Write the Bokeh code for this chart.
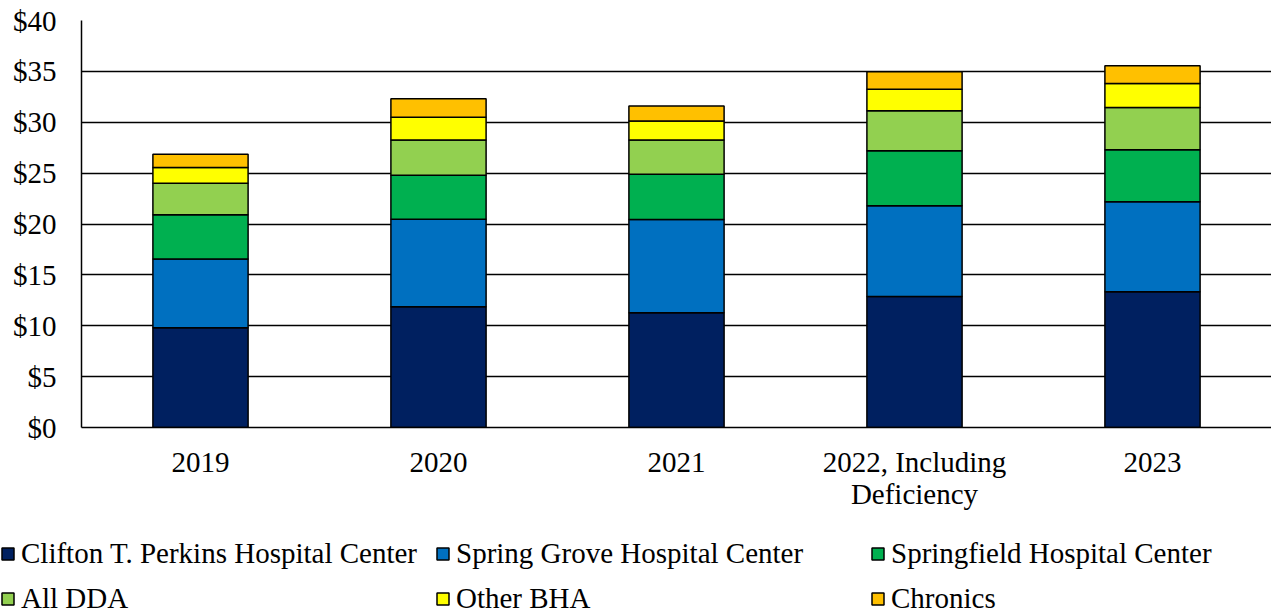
from bokeh.plotting import figure
from bokeh.models import (ColumnDataSource, FactorRange, Range1d, FixedTicker,
                          NumeralTickFormatter, Legend, LegendItem)
from bokeh.layouts import column
from bokeh.embed import file_html
from bokeh.resources import INLINE

# ---- data (in $ millions) ----
years = ["2019", "2020", "2021", "2022, Including\nDeficiency", "2023"]
series_names = ["Clifton T. Perkins Hospital Center", "Spring Grove Hospital Center",
                "Springfield Hospital Center", "All DDA", "Other BHA", "Chronics"]
perkins = [9.8, 11.86, 11.27, 12.88, 13.33]
spring_grove = [6.75, 8.6, 9.18, 8.91, 8.85]
springfield = [4.35, 4.33, 4.43, 5.41, 5.12]
all_dda = [3.1, 3.47, 3.37, 3.93, 4.16]
other_bha = [1.55, 2.23, 1.87, 2.11, 2.36]
chronics = [1.3, 1.82, 1.48, 1.73, 1.74]
y_ticks = [0, 5, 10, 15, 20, 25, 30, 35, 40]

colors = ["#002060", "#0070C0", "#00B050", "#92D050", "#FFFF00", "#FFC000"]
keys = ["perkins", "spring_grove", "springfield", "all_dda", "other_bha", "chronics"]
FONT = "Liberation Serif"
FS = "29px"

src = ColumnDataSource(dict(year=years, perkins=perkins, spring_grove=spring_grove,
                            springfield=springfield, all_dda=all_dda,
                            other_bha=other_bha, chronics=chronics))
xr = FactorRange(*years, range_padding=0)

p = figure(x_range=xr, y_range=Range1d(0, 40),
           width=1271, height=537, toolbar_location=None, output_backend="svg",
           min_border_left=81, min_border_right=0, min_border_top=20,
           min_border_bottom=110)
p.frame_align = False
p.vbar_stack(keys, x="year", width=0.4, source=src, fill_color=colors,
             line_color="black", line_width=1.5)

p.outline_line_color = None
p.xgrid.grid_line_color = None
p.ygrid.grid_line_color = "black"
p.ygrid.grid_line_width = 1.5
p.ygrid.ticker = FixedTicker(ticks=y_ticks)

p.yaxis.ticker = FixedTicker(ticks=y_ticks)
p.yaxis.formatter = NumeralTickFormatter(format="$0")
for ax in (p.xaxis[0], p.yaxis[0]):
    ax.axis_line_color = "black"
    ax.axis_line_width = 1.5
    ax.major_tick_line_color = None
    ax.minor_tick_line_color = None
    ax.major_tick_out = 0
    ax.major_tick_in = 0
    ax.major_label_text_font = FONT
    ax.major_label_text_font_size = FS
    ax.major_label_text_color = "black"
p.yaxis.major_label_standoff = 25
p.xaxis.major_label_standoff = 18
p.xaxis.major_label_text_line_height = 1.0

# ---- legend panel (hidden proxy renderers of the same series) ----
pl = figure(x_range=xr, y_range=Range1d(0, 40), width=1271, height=77,
            toolbar_location=None, output_backend="svg", min_border=0,
            x_axis_location=None, y_axis_location=None)
pl.frame_align = False
pl.grid.visible = False
pl.outline_line_color = None
proxies = pl.vbar_stack(keys, x="year", width=0.4, source=src, fill_color=colors,
                        line_color="black", line_width=1.5)
for r in proxies:
    r.visible = False
order = [0, 3, 1, 4, 2, 5]  # column-major list -> row-major appearance
items = [LegendItem(label=series_names[i], renderers=[proxies[i]]) for i in order]
leg = Legend(items=items, ncols=3, location="top_left", margin=0, padding=6,
             border_line_color=None, background_fill_alpha=0,
             glyph_width=15, glyph_height=15, label_standoff=6,
             label_width=402, label_height=32, spacing=12,
             label_text_font=FONT, label_text_font_size=FS, label_text_color="black")
pl.add_layout(leg)

layout = column(p, pl, spacing=0)
open("out.html", "w").write(file_html(layout, INLINE))
